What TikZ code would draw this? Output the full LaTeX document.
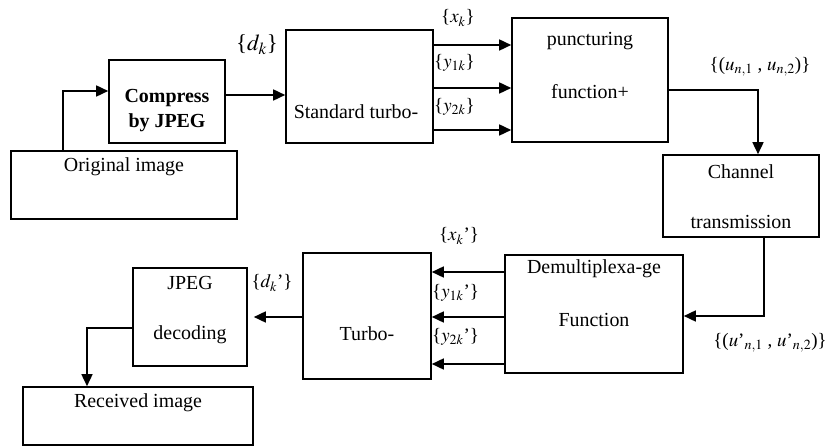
\documentclass[tikz,border=0pt]{standalone}
\usepackage{mathptmx}
\usepackage{fontspec}
\setmainfont{Liberation Serif}
\usetikzlibrary{arrows.meta}
\tikzset{
  box/.style={draw, line width=1.6bp, inner sep=0pt},
  txt/.style={font=\fontsize{20}{24}\selectfont, inner sep=0pt},
  lbl/.style={font=\fontsize{19}{23}\selectfont, inner sep=0pt},
  arr/.style={line width=1.6bp, -{Triangle[length=12bp,width=11bp]}},
  ln/.style={line width=1.6bp}
}
\begin{document}
\begin{tikzpicture}[x=1bp,y=-1bp]
\useasboundingbox (0,0) rectangle (829,448);
% boxes
\node[box, minimum width=226bp, minimum height=68bp] (orig) at (124,185) {};
\node[box, minimum width=116bp, minimum height=83bp] (comp) at (167,101.5) {};
\node[box, minimum width=147bp, minimum height=113bp] (std) at (359.5,86.5) {};
\node[box, minimum width=156bp, minimum height=124bp] (punc) at (590,80) {};
\node[box, minimum width=156bp, minimum height=82bp] (chan) at (741,196) {};
\node[box, minimum width=178bp, minimum height=118bp] (demux) at (594,314) {};
\node[box, minimum width=128bp, minimum height=126bp] (turbo) at (367,316) {};
\node[box, minimum width=114bp, minimum height=98bp] (jpeg) at (190,317) {};
\node[box, minimum width=230bp, minimum height=58bp] (recv) at (138,416) {};
% texts in boxes
\node[txt] (t-orig) at (124,167) {Original image};
\node[txt] (t-comp1) at (167,98) {\bfseries Compress};
\node[txt] (t-comp2) at (167,123) {\bfseries by JPEG};
\node[txt] (t-std) at (356,112) {Standard turbo-};
\node[txt] (t-punc1) at (590,41) {puncturing};
\node[txt] (t-punc2) at (590,92) {function+};
\node[txt] (t-chan1) at (741,172) {Channel};
\node[txt] (t-chan2) at (741,222) {transmission};
\node[txt] (t-dem1) at (594,269) {Demultiplexa-ge};
\node[txt] (t-dem2) at (594,320) {Function};
\node[txt] (t-turbo) at (367,334) {Turbo-};
\node[txt] (t-jpeg1) at (190,283) {JPEG};
\node[txt] (t-jpeg2) at (190,335) {decoding};
\node[txt] (t-recv) at (138,403) {Received image};
% labels
\node[lbl, font=\fontsize{23}{27}\selectfont] (l-dk) at (257,45) {\{$d_k$\}};
\node[lbl] (l-xk) at (458,18) {\{$x_k$\}};
\node[lbl, anchor=west] (l-y1k) at (434,63) {\{$y_{1k}$\}};
\node[lbl, anchor=west] (l-y2k) at (434,107) {\{$y_{2k}$\}};
\node[lbl] (l-u) at (760,67) {\{($u_{n,1}$ , $u_{n,2}$)\}};
\node[lbl] (l-xk2) at (459,236) {\{$x_k$’\}};
\node[lbl, anchor=west] (l-y1k2) at (432,293) {\{$y_{1k}$’\}};
\node[lbl, anchor=west] (l-y2k2) at (432,337) {\{$y_{2k}$’\}};
\node[lbl] (l-dk2) at (272,283) {\{$d_k$’\}};
\node[lbl] (l-u2) at (770,343) {\{($u$’$_{n,1}$ , $u$’$_{n,2}$)\}};
% connectors
\draw[arr] (orig.north -| 63,0) |- (comp.west |- 0,91);
\draw[arr] (comp.east |- 0,95) -- (std.west |- 0,95);
\draw[arr] (std.east |- 0,45) -- (punc.west |- 0,45);
\draw[arr] (std.east |- 0,88) -- (punc.west |- 0,88);
\draw[arr] (std.east |- 0,130) -- (punc.west |- 0,130);
\draw[arr] (punc.east |- 0,90) -| (chan.north -| 758,0);
\draw[arr] (chan.south -| 764,0) |- (demux.east |- 0,316);
\draw[arr] (demux.west |- 0,272) -- (turbo.east |- 0,272);
\draw[arr] (demux.west |- 0,317) -- (turbo.east |- 0,317);
\draw[arr] (demux.west |- 0,364) -- (turbo.east |- 0,364);
\draw[arr, shorten >=6bp] (turbo.west |- 0,317) -- (jpeg.east |- 0,317);
\draw[arr] (jpeg.west |- 0,328) -| (recv.north -| 87,0);
\end{tikzpicture}
\end{document}
